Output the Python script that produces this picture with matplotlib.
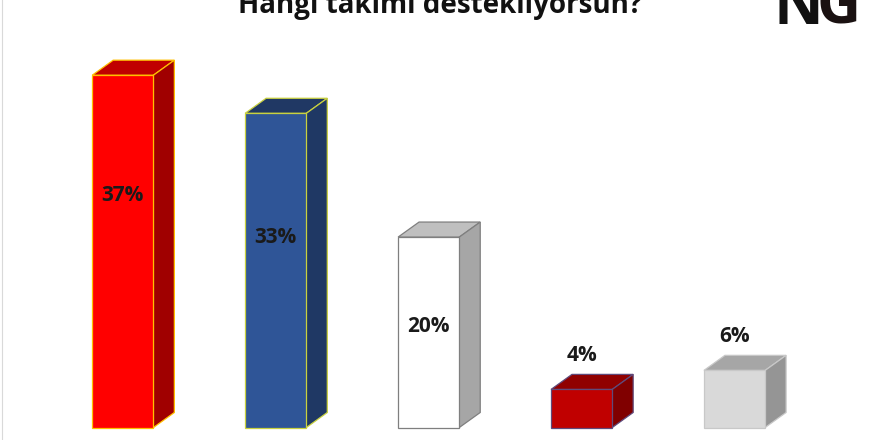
import numpy as np
import matplotlib.pyplot as plt
from matplotlib.patches import Polygon

title = 'Hangi takımı destekliyorsun?'
labels = ['37%', '33%', '20%', '4%', '6%']
values = [37, 33, 20, 4, 6]

# colours per bar: front, top, side, edge
front_colors = ['#FF0000', '#2F5597', '#FFFFFF', '#C00000', '#D9D9D9']
top_colors = ['#C00000', '#203864', '#BFBFBF', '#900000', '#A6A6A6']
side_colors = ['#A00000', '#1F3864', '#A6A6A6', '#800000', '#959595']
edge_colors = ['#FFC000', '#C9D13F', '#7F7F7F', '#5F4A7B', '#C8C8C8']
# where each label sits (percent units); last two are above the boxes
label_y = [24.4, 20.0, 10.6, 7.6, 9.6]

width = 0.4
dx = 0.137
dy = 1.58

fig = plt.figure(figsize=(8.8, 4.4), dpi=100)
ax = fig.add_axes([2 / 880, 0, 1 - 2 / 880, 1])
ax.set_xlim(-0.79, 4.951)
ax.set_ylim(-1.31, 44.9)

x = np.arange(len(values))
ax.bar(x, values, width=width, color=front_colors, edgecolor=edge_colors, linewidth=0.9, zorder=3)

for i, v in enumerate(values):
    l = x[i] - width / 2
    r = x[i] + width / 2
    top = Polygon([(l, v), (l + dx, v + dy), (r + dx, v + dy), (r, v)],
                  closed=True, facecolor=top_colors[i], edgecolor=edge_colors[i], linewidth=0.9, zorder=2)
    side = Polygon([(r, 0), (r, v), (r + dx, v + dy), (r + dx, dy)],
                   closed=True, facecolor=side_colors[i], edgecolor=edge_colors[i], linewidth=0.9, zorder=2)
    ax.add_patch(top)
    ax.add_patch(side)
    ax.text(x[i], label_y[i], labels[i], ha='center', va='center', fontsize=15,
            fontweight='bold', family='Open Sans', color='#1a1a1a', zorder=4)

for s in ['top', 'right', 'bottom']:
    ax.spines[s].set_visible(False)
ax.spines['left'].set_color('#d9d9d9')
ax.set_xticks([])
ax.set_yticks([])

fig.text(0.5, 1 - 13 / 440, title, ha='center', va='baseline', fontsize=20,
         fontweight='bold', family='Open Sans', color='#111111')

# logo in the corner, mostly cut off
fig.text(0.879, 1 - 24 / 440, 'N', ha='left', va='baseline', fontsize=44,
         fontweight='bold', family='Open Sans', color='#111111')
fig.text(0.928, 1 - 24 / 440, 'G', ha='left', va='baseline', fontsize=44,
         fontweight='bold', family='Open Sans', color='#1a1111')

fig.savefig('out.png', dpi=100, facecolor='white')
